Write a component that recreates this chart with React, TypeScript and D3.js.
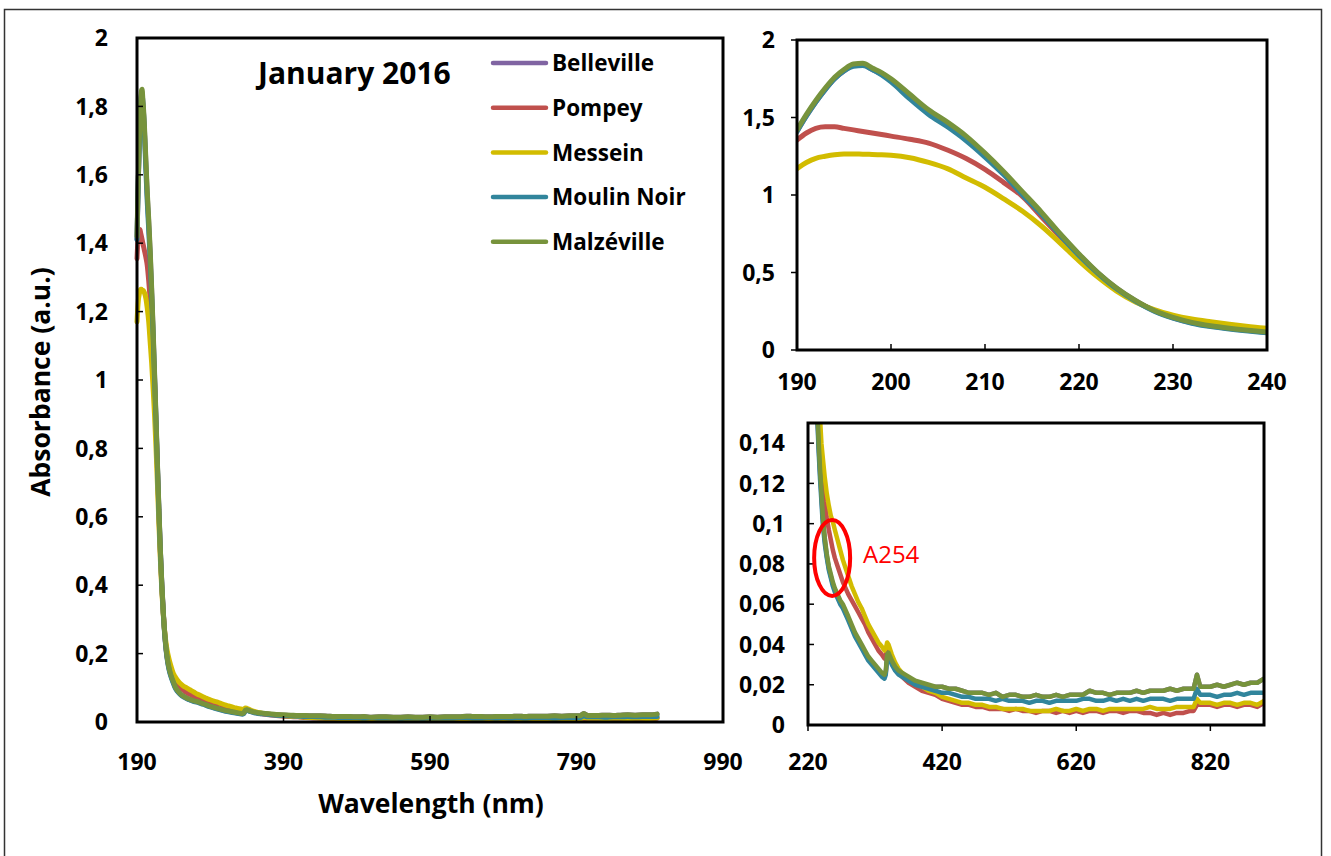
import React from "react";
import * as d3 from "d3";

// ---------- DATA ----------
const wavelengths = [
  190, 191, 192, 193, 194, 195, 196, 197, 198, 199, 200, 202, 204, 206, 208, 210, 212, 214, 216, 218, 220, 222, 224, 226, 228, 230, 232, 234, 236, 238, 240,
  242, 245, 248, 251, 254, 257, 260, 264, 268, 272, 276, 280, 285, 290, 295, 300, 305, 310, 315, 320, 325, 330, 334, 336, 338, 340, 345, 350, 355, 360, 370, 380, 390, 400,
  410, 420, 430, 440, 450, 460, 470, 480, 490, 500, 510, 520, 530, 540, 550, 560, 570, 580, 590, 600, 610, 620, 630, 640, 650, 660, 670, 680, 690, 700, 710, 720, 730, 740, 750, 760, 770, 780, 790,
  795, 800, 805, 810, 820, 830, 840, 850, 860, 870, 880, 890, 900,
];

const belleville = [
  1.41, 1.51, 1.60, 1.68, 1.75, 1.80, 1.835, 1.84, 1.81, 1.78, 1.74, 1.64, 1.54, 1.46, 1.37, 1.26, 1.14, 1.01, 0.88, 0.745, 0.615, 0.497, 0.398, 0.318, 0.253, 0.208, 0.176, 0.154, 0.138, 0.125, 0.114,
  0.103, 0.092, 0.084, 0.078, 0.074, 0.070, 0.067, 0.064, 0.061, 0.059, 0.056, 0.053, 0.049, 0.045, 0.042, 0.039, 0.036, 0.033, 0.031, 0.029, 0.027, 0.025, 0.024, 0.026, 0.034, 0.035, 0.031, 0.028, 0.026, 0.025, 0.023, 0.021, 0.020, 0.019,
  0.019, 0.019, 0.018, 0.018, 0.017, 0.016, 0.016, 0.016, 0.015, 0.016, 0.014, 0.015, 0.015, 0.014, 0.014, 0.015, 0.014, 0.014, 0.015, 0.014, 0.015, 0.015, 0.015, 0.017, 0.016, 0.016, 0.015, 0.016, 0.016, 0.016, 0.017, 0.016, 0.017, 0.017, 0.017, 0.018, 0.017, 0.018, 0.018,
  0.018, 0.025, 0.019, 0.019, 0.019, 0.020, 0.019, 0.020, 0.021, 0.020, 0.021, 0.021, 0.023,
];

const pompey = [
  1.355, 1.40, 1.43, 1.44, 1.44, 1.43, 1.42, 1.41, 1.40, 1.39, 1.38, 1.36, 1.335, 1.29, 1.235, 1.165, 1.08, 0.99, 0.86, 0.73, 0.60, 0.485, 0.39, 0.315, 0.255, 0.21, 0.18, 0.16, 0.145, 0.135, 0.127,
  0.121, 0.111, 0.103, 0.097, 0.092, 0.087, 0.083, 0.079, 0.075, 0.071, 0.068, 0.065, 0.062, 0.059, 0.056, 0.053, 0.050, 0.046, 0.043, 0.040, 0.037, 0.035, 0.033, 0.034, 0.038, 0.037, 0.032, 0.029, 0.026, 0.024, 0.021, 0.019, 0.017, 0.016,
  0.015, 0.013, 0.012, 0.011, 0.010, 0.010, 0.009, 0.009, 0.008, 0.008, 0.008, 0.007, 0.008, 0.007, 0.007, 0.006, 0.007, 0.007, 0.006, 0.007, 0.006, 0.007, 0.006, 0.007, 0.007, 0.006, 0.007, 0.007, 0.006, 0.007, 0.007, 0.006, 0.006, 0.005, 0.006, 0.005, 0.006, 0.006, 0.007,
  0.007, 0.010, 0.010, 0.010, 0.010, 0.009, 0.010, 0.010, 0.009, 0.010, 0.010, 0.009, 0.011,
];

const messein = [
  1.17, 1.21, 1.237, 1.25, 1.26, 1.265, 1.265, 1.263, 1.262, 1.26, 1.256, 1.24, 1.21, 1.17, 1.11, 1.05, 0.975, 0.895, 0.80, 0.69, 0.575, 0.47, 0.38, 0.31, 0.26, 0.225, 0.20, 0.182, 0.166, 0.152, 0.14,
  0.133, 0.123, 0.115, 0.109, 0.104, 0.101, 0.097, 0.092, 0.087, 0.082, 0.078, 0.074, 0.069, 0.065, 0.061, 0.058, 0.054, 0.050, 0.047, 0.044, 0.041, 0.039, 0.037, 0.038, 0.041, 0.040, 0.035, 0.031, 0.028, 0.026, 0.023, 0.021, 0.019, 0.017,
  0.016, 0.014, 0.013, 0.012, 0.011, 0.011, 0.010, 0.010, 0.009, 0.009, 0.008, 0.008, 0.008, 0.008, 0.007, 0.007, 0.007, 0.007, 0.008, 0.007, 0.007, 0.008, 0.007, 0.008, 0.008, 0.007, 0.008, 0.008, 0.008, 0.008, 0.008, 0.008, 0.009, 0.008, 0.008, 0.008, 0.009, 0.009, 0.009,
  0.009, 0.013, 0.011, 0.011, 0.011, 0.010, 0.011, 0.011, 0.010, 0.011, 0.011, 0.010, 0.012,
];

const moulinNoir = [
  1.41, 1.51, 1.60, 1.68, 1.75, 1.80, 1.83, 1.835, 1.81, 1.775, 1.73, 1.62, 1.52, 1.44, 1.35, 1.245, 1.13, 1.00, 0.875, 0.74, 0.61, 0.495, 0.395, 0.315, 0.25, 0.205, 0.173, 0.151, 0.135, 0.122, 0.111,
  0.100, 0.090, 0.083, 0.077, 0.073, 0.069, 0.066, 0.063, 0.060, 0.058, 0.055, 0.052, 0.048, 0.044, 0.041, 0.038, 0.035, 0.032, 0.030, 0.028, 0.026, 0.024, 0.023, 0.025, 0.033, 0.034, 0.030, 0.027, 0.025, 0.024, 0.022, 0.020, 0.019, 0.018,
  0.017, 0.016, 0.016, 0.015, 0.014, 0.014, 0.013, 0.013, 0.013, 0.012, 0.013, 0.012, 0.012, 0.012, 0.011, 0.012, 0.012, 0.011, 0.012, 0.012, 0.012, 0.012, 0.013, 0.013, 0.012, 0.012, 0.013, 0.012, 0.013, 0.012, 0.013, 0.012, 0.013, 0.013, 0.013, 0.012, 0.013, 0.013, 0.013,
  0.013, 0.018, 0.015, 0.015, 0.015, 0.014, 0.015, 0.015, 0.016, 0.015, 0.016, 0.016, 0.016,
];

const malzeville = [
  1.42, 1.52, 1.61, 1.69, 1.76, 1.81, 1.845, 1.85, 1.82, 1.79, 1.75, 1.65, 1.55, 1.47, 1.38, 1.27, 1.15, 1.02, 0.89, 0.75, 0.62, 0.50, 0.40, 0.32, 0.255, 0.21, 0.178, 0.156, 0.14, 0.127, 0.116,
  0.104, 0.093, 0.085, 0.079, 0.075, 0.071, 0.068, 0.065, 0.062, 0.060, 0.057, 0.054, 0.050, 0.046, 0.043, 0.040, 0.037, 0.034, 0.032, 0.030, 0.028, 0.026, 0.025, 0.027, 0.035, 0.036, 0.032, 0.029, 0.027, 0.026, 0.024, 0.022, 0.021, 0.020,
  0.019, 0.019, 0.018, 0.018, 0.017, 0.016, 0.016, 0.016, 0.015, 0.016, 0.014, 0.015, 0.015, 0.014, 0.014, 0.015, 0.014, 0.014, 0.015, 0.014, 0.015, 0.015, 0.015, 0.017, 0.016, 0.016, 0.015, 0.016, 0.016, 0.016, 0.017, 0.016, 0.017, 0.017, 0.017, 0.018, 0.017, 0.018, 0.018,
  0.018, 0.025, 0.019, 0.019, 0.019, 0.020, 0.019, 0.020, 0.021, 0.020, 0.021, 0.021, 0.023,
];

const seriesNames = ["Belleville", "Pompey", "Messein", "Moulin Noir", "Malzéville"];
const seriesValues = [belleville, pompey, messein, moulinNoir, malzeville];
const seriesColors = ["#8064A2", "#C0504D", "#D2BC00", "#31859C", "#77933C"];

const mainXTicks = [190, 390, 590, 790, 990];
const mainYTicks = [0, 0.2, 0.4, 0.6, 0.8, 1, 1.2, 1.4, 1.6, 1.8, 2];
const uvXTicks = [190, 200, 210, 220, 230, 240];
const uvYTicks = [0, 0.5, 1, 1.5, 2];
const visXTicks = [220, 420, 620, 820];
const visYTicks = [0, 0.02, 0.04, 0.06, 0.08, 0.1, 0.12, 0.14];

const chartTitle = "January 2016";
const xTitle = "Wavelength (nm)";
const yTitle = "Absorbance (a.u.)";
const annotationLabel = "A254";
const annotationWavelength = 256;
const annotationAbsorbance = 0.083;

// ---------- helpers ----------
const FONT = "'Open Sans', 'Liberation Sans', sans-serif";
const TICK_FS = 23;
const fmt = (v: number) => String(+v.toFixed(3)).replace(".", ",");

type Panel = {
  id: string;
  x0: number; x1: number; y0: number; y1: number;
  xDomain: [number, number]; yDomain: [number, number];
  xTicks: number[]; yTicks: number[];
  xTickDir: number; yTickDir: number; // 1 inside, -1 outside
  yLabelRight: number; xLabelBase: number;
  strokeW: number; clip: boolean; curve: boolean;
};

function PlotPanel({ p }: { p: Panel }) {
  const x = d3.scaleLinear().domain(p.xDomain).range([p.x0, p.x1]);
  const y = d3.scaleLinear().domain(p.yDomain).range([p.y1, p.y0]);
  const pts = wavelengths.map((w, i) => i);
  const clipId = `clip-${p.id}`;
  const paths = seriesValues.map((vals) => {
    const gen = d3
      .line<number>()
      .x((i) => x(wavelengths[i]))
      .y((i) => y(vals[i]))
      .curve(p.curve ? d3.curveMonotoneX : d3.curveLinear);
    return gen(pts) || "";
  });
  return (
    <g>
      <defs>
        <clipPath id={clipId}>
          <rect x={p.x0} y={p.y0} width={p.x1 - p.x0} height={p.y1 - p.y0} />
        </clipPath>
      </defs>
      <g clipPath={p.clip ? `url(#${clipId})` : undefined}>
        {paths.map((d, i) => (
          <path
            key={i}
            d={d}
            fill="none"
            stroke={seriesColors[i]}
            strokeWidth={p.strokeW}
            strokeLinejoin="round"
            strokeLinecap="round"
          />
        ))}
      </g>
      {p.xTicks.map((t) => (
        <line key={"xt" + t} x1={x(t)} x2={x(t)} y1={p.y1} y2={p.y1 - p.xTickDir * 6} stroke="#000" strokeWidth={1.5} />
      ))}
      {p.yTicks.map((t) => (
        <line key={"yt" + t} x1={p.x0} x2={p.x0 + p.yTickDir * 6} y1={y(t)} y2={y(t)} stroke="#000" strokeWidth={1.5} />
      ))}
      <rect x={p.x0} y={p.y0} width={p.x1 - p.x0} height={p.y1 - p.y0} fill="none" stroke="#000" strokeWidth={3} />
      {p.xTicks.map((t) => (
        <text key={"xl" + t} x={x(t)} y={p.xLabelBase} textAnchor="middle" fontFamily={FONT} fontWeight={700} fontSize={TICK_FS} fill="#000">
          {fmt(t)}
        </text>
      ))}
      {p.yTicks.map((t) => (
        <text key={"yl" + t} x={p.yLabelRight} y={y(t)} dy="0.36em" textAnchor="end" fontFamily={FONT} fontWeight={700} fontSize={TICK_FS} fill="#000">
          {fmt(t)}
        </text>
      ))}
    </g>
  );
}

const mainPanel: Panel = {
  id: "main", x0: 137, x1: 723, y0: 38, y1: 722,
  xDomain: [190, 990], yDomain: [0, 2],
  xTicks: mainXTicks, yTicks: mainYTicks, xTickDir: 1, yTickDir: 1,
  yLabelRight: 108, xLabelBase: 770, strokeW: 5, clip: false, curve: true,
};
const uvPanel: Panel = {
  id: "uv", x0: 797, x1: 1267, y0: 40, y1: 350,
  xDomain: [190, 240], yDomain: [0, 2],
  xTicks: uvXTicks, yTicks: uvYTicks, xTickDir: 1, yTickDir: -1,
  yLabelRight: 775, xLabelBase: 390, strokeW: 5, clip: true, curve: true,
};
const visPanel: Panel = {
  id: "vis", x0: 808, x1: 1264, y0: 423, y1: 725,
  xDomain: [220, 900], yDomain: [0, 0.15],
  xTicks: visXTicks, yTicks: visYTicks, xTickDir: -1, yTickDir: 1,
  yLabelRight: 785, xLabelBase: 770, strokeW: 4.5, clip: true, curve: false,
};

export default function App() {
  const visX = d3.scaleLinear().domain(visPanel.xDomain).range([visPanel.x0, visPanel.x1]);
  const visY = d3.scaleLinear().domain(visPanel.yDomain).range([visPanel.y1, visPanel.y0]);
  const ax = visX(annotationWavelength);
  const ay = visY(annotationAbsorbance);
  return (
    <svg
      width={1331}
      height={856}
      style={{ position: "absolute", left: 0, top: 0, background: "#fff" }}
      xmlns="http://www.w3.org/2000/svg"
    >
      <rect x={0} y={0} width={1331} height={856} fill="#fff" />
      <rect x={4.5} y={9.5} width={1317} height={860} fill="none" stroke="#333" strokeWidth={1.5} />

      <PlotPanel p={mainPanel} />
      <PlotPanel p={uvPanel} />
      <PlotPanel p={visPanel} />

      <text x={258} y={84} fontFamily={FONT} fontWeight={700} fontSize={30} fill="#000">
        {chartTitle}
      </text>

      {seriesNames.map((n, i) => {
        const ly = 63 + i * 44.7;
        return (
          <g key={n}>
            <line x1={493} x2={546} y1={ly} y2={ly} stroke={seriesColors[i]} strokeWidth={4.5} strokeLinecap="round" />
            <text x={552} y={ly} dy="0.36em" fontFamily={FONT} fontWeight={700} fontSize={22.5} fill="#000">
              {n}
            </text>
          </g>
        );
      })}

      <text
        transform={`translate(50,382) rotate(-90)`}
        textAnchor="middle"
        fontFamily={FONT}
        fontWeight={700}
        fontSize={26.5}
        fill="#000"
      >
        {yTitle}
      </text>
      <text x={431} y={813} textAnchor="middle" fontFamily={FONT} fontWeight={700} fontSize={26.5} fill="#000">
        {xTitle}
      </text>

      <ellipse cx={ax} cy={ay} rx={18} ry={38} fill="none" stroke="#FF0000" strokeWidth={4} />
      <text x={863} y={563} fontFamily={FONT} fontSize={24} fill="#FF0000">
        {annotationLabel}
      </text>
    </svg>
  );
}
